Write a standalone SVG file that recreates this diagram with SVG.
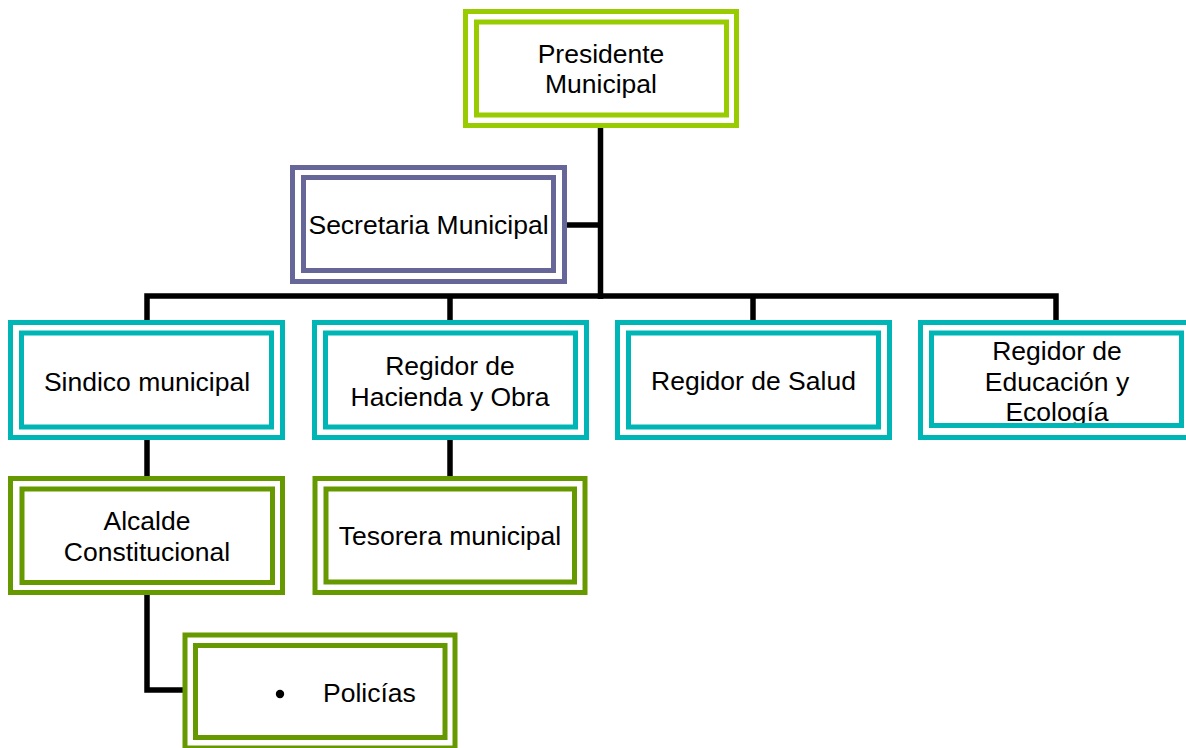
<svg xmlns="http://www.w3.org/2000/svg" width="1186" height="748" viewBox="0 0 1186 748">
<style>
.o{fill:none;stroke-width:5}
.t{font-family:"Liberation Sans",Arial,sans-serif;font-size:26.5px;fill:#000;text-anchor:middle}
.lime{stroke:#99CC00}
.purp{stroke:#666699}
.teal{stroke:#00B5B5}
.olive{stroke:#669900}
.c{fill:none;stroke:#000;stroke-width:5.5;stroke-linejoin:miter}
</style>
<rect width="1186" height="748" fill="#fff"/>
<g id="connectors">
<path class="c" d="M600.5,128 V299"/>
<path class="c" d="M567,225 H600.5"/>
<path class="c" d="M147,320 V296 H1056 V320"/>
<path class="c" d="M450,296 V320"/>
<path class="c" d="M753,296 V320"/>
<path class="c" d="M147,440 V476"/>
<path class="c" d="M450,440 V476"/>
<path class="c" d="M147,595 V690 H183"/>
</g>
<g id="presidente">
<rect x="465.5" y="11.5" width="271" height="114" class="o lime" fill="#fff"/>
<rect x="476.5" y="22" width="250" height="93" class="o lime"/>
<text class="t" x="601" y="63">Presidente</text>
<text class="t" x="601" y="93">Municipal</text>
</g>
<g id="secretaria">
<rect x="292.5" y="167.5" width="272" height="114" class="o purp" fill="#fff"/>
<rect x="303.5" y="177.5" width="250" height="93" class="o purp"/>
<text class="t" x="428.5" y="234">Secretaria Municipal</text>
</g>
<g id="sindico">
<rect x="10.5" y="322.5" width="272" height="115" class="o teal" fill="#fff"/>
<rect x="21.5" y="333" width="250" height="94" class="o teal"/>
<text class="t" x="147" y="391">Sindico municipal</text>
</g>
<g id="hacienda">
<rect x="314.5" y="322.5" width="272" height="115" class="o teal" fill="#fff"/>
<rect x="325.5" y="333" width="250" height="94" class="o teal"/>
<text class="t" x="450" y="375">Regidor de</text>
<text class="t" x="450" y="406">Hacienda y Obra</text>
</g>
<g id="salud">
<rect x="617.5" y="322.5" width="272" height="115" class="o teal" fill="#fff"/>
<rect x="628.5" y="333" width="250" height="94" class="o teal"/>
<text class="t" x="753.5" y="390">Regidor de Salud</text>
</g>
<g id="educacion">
<rect x="920.5" y="322.5" width="272" height="115" class="o teal" fill="#fff"/>
<text class="t" x="1057" y="360">Regidor de</text>
<text class="t" x="1057" y="391">Educación y</text>
<text class="t" x="1057" y="421">Ecología</text>
<rect x="931.5" y="333" width="250" height="92.5" class="o teal"/>
</g>
<g id="alcalde">
<rect x="10.5" y="478.5" width="272" height="114" class="o olive" fill="#fff"/>
<rect x="22" y="489" width="250.5" height="93.5" class="o olive"/>
<text class="t" x="147" y="530">Alcalde</text>
<text class="t" x="147" y="561">Constitucional</text>
</g>
<g id="tesorera">
<rect x="315" y="478.5" width="270" height="114" class="o olive" fill="#fff"/>
<rect x="326" y="489" width="248.5" height="93" class="o olive"/>
<text class="t" x="450" y="545">Tesorera municipal</text>
</g>
<g id="policias">
<rect x="185" y="635" width="270" height="113" class="o olive" fill="#fff"/>
<rect x="195.5" y="645.5" width="249.5" height="92" class="o olive"/>
<circle cx="280" cy="694" r="4.2" fill="#000"/>
<text class="t" x="323" y="702" style="text-anchor:start">Policías</text>
</g>
</svg>
